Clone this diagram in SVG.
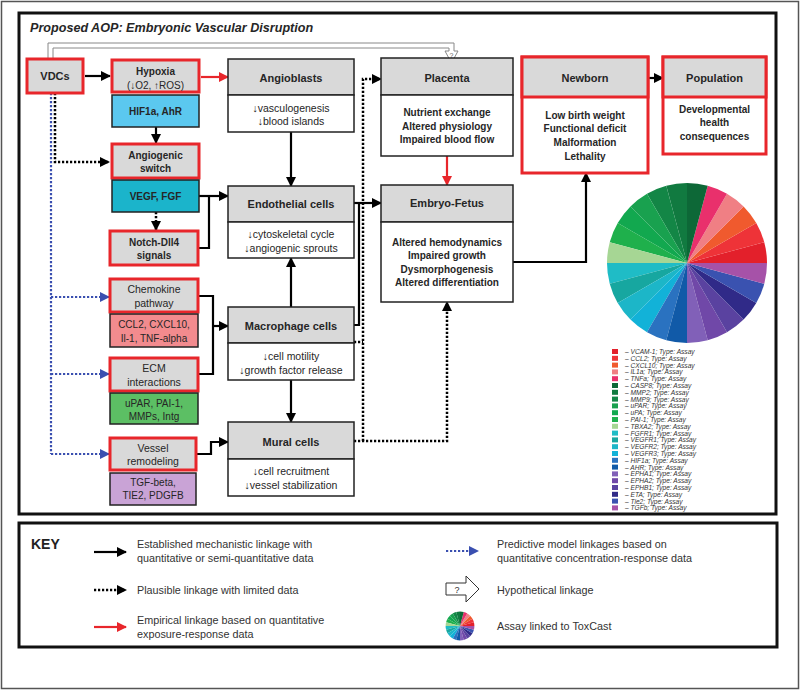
<svg xmlns="http://www.w3.org/2000/svg" width="800" height="690" viewBox="0 0 800 690">
<style>
text{font-family:"Liberation Sans",Arial,sans-serif;fill:#262626}
.t{font-size:11px;font-weight:bold;text-anchor:middle}
.n{font-size:10.5px;text-anchor:middle}
.s{font-size:10px;text-anchor:middle}
.sb{font-size:10px;font-weight:bold;text-anchor:middle}
.b{font-size:10px;font-weight:bold;text-anchor:middle}
.red{fill:#d9d9d9;stroke:#e8262b;stroke-width:3}
.hdr{fill:#d9d9d9;stroke:#222;stroke-width:1.5}
.bod{fill:#fff;stroke:#222;stroke-width:1.5}
.as{stroke:#222;stroke-width:1.5}
.k{font-size:10.8px;fill:#333}
.lg{font-size:6.6px;font-style:italic;fill:#333}
.c{fill:none;stroke:#000;stroke-width:2.2}
.ca{fill:none;stroke:#000;stroke-width:2.2;marker-end:url(#ab)}
.cr{fill:none;stroke:#e8262b;stroke-width:2.2;marker-end:url(#ar)}
.d{fill:none;stroke:#000;stroke-width:2.5;stroke-dasharray:2.2 1.8}
.da{fill:none;stroke:#000;stroke-width:2.5;stroke-dasharray:2.2 1.8;marker-end:url(#ab)}
.bl{fill:none;stroke:#3a4fb0;stroke-width:2.2;stroke-dasharray:2.2 1.8}
.bla{fill:none;stroke:#3a4fb0;stroke-width:2.2;stroke-dasharray:2.2 1.8;marker-end:url(#abl)}
</style>
<defs>
<marker id="ab" viewBox="0 0 10 10" refX="9" refY="5" markerWidth="10" markerHeight="10" markerUnits="userSpaceOnUse" orient="auto"><path d="M0,0 L10,5 L0,10 z" fill="#000"/></marker>
<marker id="ar" viewBox="0 0 10 10" refX="9" refY="5" markerWidth="10" markerHeight="10" markerUnits="userSpaceOnUse" orient="auto"><path d="M0,0 L10,5 L0,10 z" fill="#e8262b"/></marker>
<marker id="abl" viewBox="0 0 10 10" refX="9" refY="5" markerWidth="10" markerHeight="10" markerUnits="userSpaceOnUse" orient="auto"><path d="M0,0 L10,5 L0,10 z" fill="#3a4fb0"/></marker>
<g id="pie">
<path d="M0,0 L80,0 A80,80 0 0 0 77.27,-20.71 Z" fill="#e3202b"/>
<path d="M0,0 L77.27,-20.71 A80,80 0 0 0 69.28,-40 Z" fill="#ee3338"/>
<path d="M0,0 L69.28,-40 A80,80 0 0 0 56.57,-56.57 Z" fill="#f05a2e"/>
<path d="M0,0 L56.57,-56.57 A80,80 0 0 0 40,-69.28 Z" fill="#f07f84"/>
<path d="M0,0 L40,-69.28 A80,80 0 0 0 20.71,-77.27 Z" fill="#e9306c"/>
<path d="M0,0 L20.71,-77.27 A80,80 0 0 0 0,-80 Z" fill="#0d6837"/>
<path d="M0,0 L0,-80 A80,80 0 0 0 -20.71,-77.27 Z" fill="#117a40"/>
<path d="M0,0 L-20.71,-77.27 A80,80 0 0 0 -40,-69.28 Z" fill="#138646"/>
<path d="M0,0 L-40,-69.28 A80,80 0 0 0 -56.57,-56.57 Z" fill="#19a14f"/>
<path d="M0,0 L-56.57,-56.57 A80,80 0 0 0 -69.28,-40 Z" fill="#12a84f"/>
<path d="M0,0 L-69.28,-40 A80,80 0 0 0 -77.27,-20.71 Z" fill="#1fb04c"/>
<path d="M0,0 L-77.27,-20.71 A80,80 0 0 0 -80,0 Z" fill="#a6d694"/>
<path d="M0,0 L-80,0 A80,80 0 0 0 -77.27,20.71 Z" fill="#1fbcc6"/>
<path d="M0,0 L-77.27,20.71 A80,80 0 0 0 -69.28,40 Z" fill="#17a7a0"/>
<path d="M0,0 L-69.28,40 A80,80 0 0 0 -56.57,56.57 Z" fill="#1cb6c8"/>
<path d="M0,0 L-56.57,56.57 A80,80 0 0 0 -40,69.28 Z" fill="#12b2d8"/>
<path d="M0,0 L-40,69.28 A80,80 0 0 0 -20.71,77.27 Z" fill="#2a72c0"/>
<path d="M0,0 L-20.71,77.27 A80,80 0 0 0 0,80 Z" fill="#115aa8"/>
<path d="M0,0 L0,80 A80,80 0 0 0 20.71,77.27 Z" fill="#8160b8"/>
<path d="M0,0 L20.71,77.27 A80,80 0 0 0 40,69.28 Z" fill="#7048a8"/>
<path d="M0,0 L40,69.28 A80,80 0 0 0 56.57,56.57 Z" fill="#5a42a0"/>
<path d="M0,0 L56.57,56.57 A80,80 0 0 0 69.28,40 Z" fill="#302a88"/>
<path d="M0,0 L69.28,40 A80,80 0 0 0 77.27,20.71 Z" fill="#3a52b0"/>
<path d="M0,0 L77.27,20.71 A80,80 0 0 0 80,0 Z" fill="#a652a8"/>
</g>
</defs>
<rect x="0" y="0" width="800" height="690" fill="#fff"/>
<rect x="1.5" y="1.5" width="797" height="687" fill="none" stroke="#555" stroke-width="1.5"/>
<rect x="19" y="13" width="757" height="501" fill="none" stroke="#111" stroke-width="3"/>
<text x="30" y="32" style="font-size:12.6px;font-weight:bold;font-style:italic">Proposed AOP: Embryonic Vascular Disruption</text>

<g id="connectors">
<path d="M48,59 V43 H454 V51 H458 L451.5,63 L445,51 H449 V48 H53 V59" fill="#fff" stroke="#888" stroke-width="1"/>
<text x="451.5" y="58" style="font-size:7px;text-anchor:middle;fill:#666">?</text>
<path class="ca" d="M85,76 H110"/>
<path class="cr" d="M201,77 H228"/>
<path class="ca" d="M156,127 V143"/>
<path class="da" d="M55,93 V162 H109"/>
<path class="bl" d="M51,93 V454"/>
<path class="bla" d="M51,297 H109"/>
<path class="bla" d="M51,374 H109"/>
<path class="bla" d="M51,454 H109"/>
<path class="da" d="M156,212 V230"/>
<path class="ca" d="M199,196 H228"/>
<path class="c" d="M198,248 H209 V196"/>
<path class="c" d="M199,296 H213 V374 H199"/>
<path class="ca" d="M213,326 H228"/>
<path class="ca" d="M196,454 H211 V442 H228"/>
<path class="ca" d="M291,132 V186"/>
<path class="ca" d="M291,307 V258"/>
<path class="ca" d="M291,380 V422"/>
<path class="ca" d="M354,203 H381"/>
<path class="c" d="M354,325 H359 V203"/>
<path class="d" d="M354,342 H363"/>
<path class="da" d="M363,441 V79 H381"/>
<path class="da" d="M354,441 H447 V302"/>
<path class="cr" d="M447,156 V185"/>
<path class="ca" d="M513,262 H586 V173"/>
<path class="ca" d="M648,78 H663"/>
</g>

<g id="vdcs"><rect class="red" x="27" y="59" width="56" height="34"/><text class="t" x="55" y="80">VDCs</text></g>
<g id="hypoxia"><rect class="red" x="112" y="60" width="87" height="32"/><text class="b" x="155.5" y="75">Hypoxia</text><text class="s" x="155.5" y="89">(↓O2, ↑ROS)</text></g>
<g id="hif1a"><rect class="as" x="112" y="95" width="87" height="32" fill="#5bc8ef"/><text class="sb" x="155.5" y="115">HIF1a, AhR</text></g>
<g id="angiogenic-switch"><rect class="red" x="112" y="144" width="87" height="34"/><text class="b" x="155.5" y="159">Angiogenic</text><text class="b" x="155.5" y="172">switch</text></g>
<g id="vegf"><rect class="as" x="112" y="180" width="87" height="32" fill="#1bb4cb"/><text class="sb" x="155.5" y="200">VEGF, FGF</text></g>
<g id="notch"><rect class="red" x="110" y="231" width="88" height="34"/><text class="b" x="154" y="246">Notch-Dll4</text><text class="b" x="154" y="259">signals</text></g>
<g id="chemokine"><rect class="red" x="110" y="279" width="88" height="33"/><text class="n" x="154" y="293">Chemokine</text><text class="n" x="154" y="307">pathway</text></g>
<g id="ccl2"><rect class="as" x="110" y="314" width="88" height="33" fill="#f28b8e"/><text class="s" x="154" y="328">CCL2, CXCL10,</text><text class="s" x="154" y="342">Il-1, TNF-alpha</text></g>
<g id="ecm"><rect class="red" x="110" y="358" width="88" height="33"/><text class="n" x="154" y="372">ECM</text><text class="n" x="154" y="386">interactions</text></g>
<g id="upar"><rect class="as" x="110" y="393" width="88" height="31" fill="#5cbf64"/><text class="s" x="154" y="407">uPAR, PAI-1,</text><text class="s" x="154" y="420">MMPs, Intg</text></g>
<g id="vessel"><rect class="red" x="110" y="438" width="86" height="32"/><text class="n" x="153" y="452">Vessel</text><text class="n" x="153" y="465">remodeling</text></g>
<g id="tgf"><rect class="as" x="110" y="473" width="86" height="32" fill="#c9a3d6"/><text class="s" x="153" y="486">TGF-beta,</text><text class="s" x="153" y="499">TIE2, PDGFB</text></g>

<g id="angioblasts"><rect class="hdr" x="228" y="59" width="126" height="36"/><rect class="bod" x="228" y="95" width="126" height="37"/><text class="t" x="291" y="82">Angioblasts</text><text class="n" x="291" y="112">↓vasculogenesis</text><text class="n" x="291" y="125">↓blood islands</text></g>
<g id="endothelial"><rect class="hdr" x="228" y="186" width="126" height="36"/><rect class="bod" x="228" y="222" width="126" height="36"/><text class="t" x="291" y="208">Endothelial cells</text><text class="n" x="291" y="238">↓cytoskeletal cycle</text><text class="n" x="291" y="252">↓angiogenic sprouts</text></g>
<g id="macrophage"><rect class="hdr" x="228" y="307" width="126" height="36"/><rect class="bod" x="228" y="343" width="126" height="37"/><text class="t" x="291" y="330">Macrophage cells</text><text class="n" x="291" y="360">↓cell motility</text><text class="n" x="291" y="374">↓growth factor release</text></g>
<g id="mural"><rect class="hdr" x="228" y="422" width="126" height="37"/><rect class="bod" x="228" y="459" width="126" height="37"/><text class="t" x="291" y="446">Mural cells</text><text class="n" x="291" y="475">↓cell recruitment</text><text class="n" x="291" y="489">↓vessel stabilization</text></g>

<g id="placenta"><rect class="hdr" x="381" y="58" width="132" height="37"/><rect class="bod" x="381" y="95" width="132" height="61"/><text class="t" x="447" y="82">Placenta</text><text class="b" x="447" y="116">Nutrient exchange</text><text class="b" x="447" y="130">Altered physiology</text><text class="b" x="447" y="143">Impaired blood flow</text></g>
<g id="embryo"><rect class="hdr" x="381" y="185" width="132" height="37"/><rect class="bod" x="381" y="222" width="132" height="80"/><text class="t" x="447" y="207">Embryo-Fetus</text><text class="b" x="447" y="246">Altered hemodynamics</text><text class="b" x="447" y="259">Impaired growth</text><text class="b" x="447" y="273">Dysmorphogenesis</text><text class="b" x="447" y="286">Altered differentiation</text></g>
<g id="newborn"><rect x="522" y="57" width="126" height="116" fill="#fff" stroke="#e8262b" stroke-width="3"/><rect x="522" y="57" width="126" height="40" fill="#d9d9d9" stroke="#e8262b" stroke-width="3"/><text class="t" x="585" y="82">Newborn</text><text class="b" x="585" y="119">Low birth weight</text><text class="b" x="585" y="132">Functional deficit</text><text class="b" x="585" y="146">Malformation</text><text class="b" x="585" y="160">Lethality</text></g>
<g id="population"><rect x="663" y="57" width="103" height="97" fill="#fff" stroke="#e8262b" stroke-width="3"/><rect x="663" y="57" width="103" height="40" fill="#d9d9d9" stroke="#e8262b" stroke-width="3"/><text class="t" x="714.5" y="82">Population</text><text class="b" x="714.5" y="113">Developmental</text><text class="b" x="714.5" y="126">health</text><text class="b" x="714.5" y="140">consequences</text></g>

<g id="assay-pie"><use href="#pie" transform="translate(687,263)"/></g>
<g id="legend">
<rect x="612" y="349" width="6" height="5" fill="#e3202b"/><text class="lg" x="625" y="354">– VCAM-1; Type: Assay</text>
<rect x="612" y="355.8" width="6" height="5" fill="#ee3338"/><text class="lg" x="625" y="360.8">– CCL2; Type: Assay</text>
<rect x="612" y="362.6" width="6" height="5" fill="#f05a2e"/><text class="lg" x="625" y="367.6">– CXCL10; Type: Assay</text>
<rect x="612" y="369.4" width="6" height="5" fill="#f07f84"/><text class="lg" x="625" y="374.4">– IL1a; Type: Assay</text>
<rect x="612" y="376.2" width="6" height="5" fill="#e9306c"/><text class="lg" x="625" y="381.2">– TNFa; Type: Assay</text>
<rect x="612" y="383" width="6" height="5" fill="#0d6837"/><text class="lg" x="625" y="388">– CASP8; Type: Assay</text>
<rect x="612" y="389.8" width="6" height="5" fill="#117a40"/><text class="lg" x="625" y="394.8">– MMP2; Type: Assay</text>
<rect x="612" y="396.6" width="6" height="5" fill="#138646"/><text class="lg" x="625" y="401.6">– MMP9; Type: Assay</text>
<rect x="612" y="403.4" width="6" height="5" fill="#19a14f"/><text class="lg" x="625" y="408.4">– uPAR; Type: Assay</text>
<rect x="612" y="410.2" width="6" height="5" fill="#12a84f"/><text class="lg" x="625" y="415.2">– uPA; Type: Assay</text>
<rect x="612" y="417" width="6" height="5" fill="#1fb04c"/><text class="lg" x="625" y="422">– PAI-1; Type: Assay</text>
<rect x="612" y="423.8" width="6" height="5" fill="#a6d694"/><text class="lg" x="625" y="428.8">– TBXA2; Type: Assay</text>
<rect x="612" y="430.6" width="6" height="5" fill="#1fbcc6"/><text class="lg" x="625" y="435.6">– FGFR1; Type: Assay</text>
<rect x="612" y="437.4" width="6" height="5" fill="#17a7a0"/><text class="lg" x="625" y="442.4">– VEGFR1; Type: Assay</text>
<rect x="612" y="444.2" width="6" height="5" fill="#1cb6c8"/><text class="lg" x="625" y="449.2">– VEGFR2; Type: Assay</text>
<rect x="612" y="451" width="6" height="5" fill="#12b2d8"/><text class="lg" x="625" y="456">– VEGFR3; Type: Assay</text>
<rect x="612" y="457.8" width="6" height="5" fill="#2a72c0"/><text class="lg" x="625" y="462.8">– HIF1a; Type: Assay</text>
<rect x="612" y="464.6" width="6" height="5" fill="#115aa8"/><text class="lg" x="625" y="469.6">– AHR; Type: Assay</text>
<rect x="612" y="471.4" width="6" height="5" fill="#8160b8"/><text class="lg" x="625" y="476.4">– EPHA1; Type: Assay</text>
<rect x="612" y="478.2" width="6" height="5" fill="#7048a8"/><text class="lg" x="625" y="483.2">– EPHA2; Type: Assay</text>
<rect x="612" y="485" width="6" height="5" fill="#5a42a0"/><text class="lg" x="625" y="490">– EPHB1; Type: Assay</text>
<rect x="612" y="491.8" width="6" height="5" fill="#302a88"/><text class="lg" x="625" y="496.8">– ETA; Type: Assay</text>
<rect x="612" y="498.6" width="6" height="5" fill="#3a52b0"/><text class="lg" x="625" y="503.6">– Tie2; Type: Assay</text>
<rect x="612" y="505.4" width="6" height="5" fill="#a652a8"/><text class="lg" x="625" y="510.4">– TGFb; Type: Assay</text>
</g>

<g id="key">
<rect x="19" y="523" width="758" height="124" fill="none" stroke="#111" stroke-width="3"/>
<text x="31" y="549" style="font-size:14px;font-weight:bold;fill:#222">KEY</text>
<path class="ca" d="M94,552 H126"/>
<text class="k" x="137" y="548">Established mechanistic linkage with</text>
<text class="k" x="137" y="562">quantitative or semi-quantitative data</text>
<path class="da" d="M94,590 H126"/>
<text class="k" x="137" y="594">Plausible linkage with limited data</text>
<path class="cr" d="M94,627 H126"/>
<text class="k" x="137" y="624">Empirical linkage based on quantitative</text>
<text class="k" x="137" y="638">exposure-response data</text>
<path class="bla" d="M446,551 H478"/>
<text class="k" x="497" y="548">Predictive model linkages based on</text>
<text class="k" x="497" y="562">quantitative concentration-response data</text>
<path d="M446,583 H466 V576 L479,589 L466,602 V595 H446 Z" fill="#fff" stroke="#333" stroke-width="1"/>
<text x="457" y="593" style="font-size:9px;text-anchor:middle;fill:#333">?</text>
<text class="k" x="497" y="594">Hypothetical linkage</text>
<use href="#pie" transform="translate(460,626) scale(0.18)"/>
<text class="k" x="497" y="630">Assay linked to ToxCast</text>
</g>
</svg>
